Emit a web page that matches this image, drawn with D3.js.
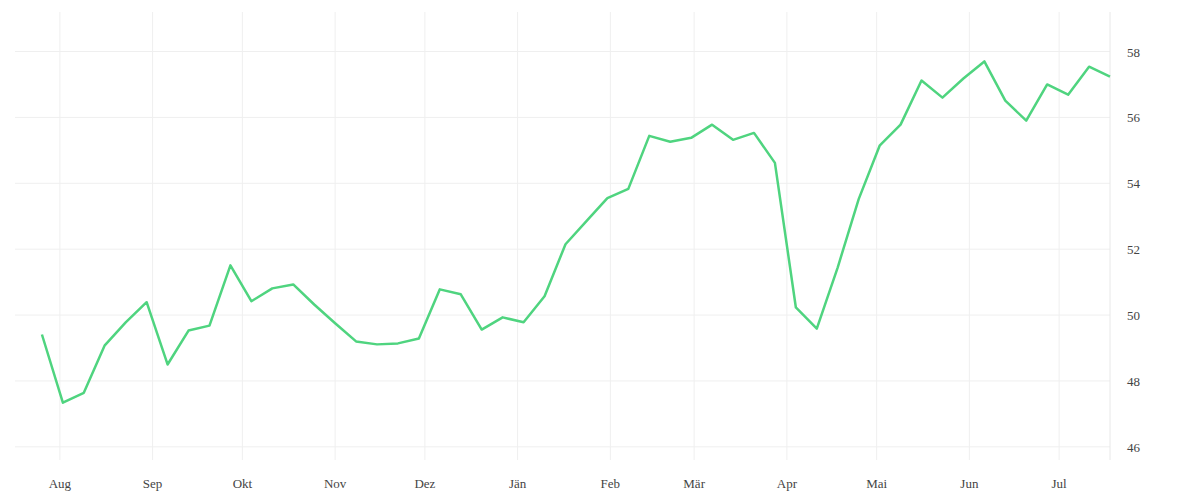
<!DOCTYPE html>
<html><head><meta charset="utf-8">
<script src="https://cdn.jsdelivr.net/npm/d3@7"></script>
<style>body{margin:0;background:#fff}text{font-family:"Liberation Serif",serif;font-size:13px;fill:#444}</style>
</head><body><svg id="c" width="1200" height="500"></svg>
<script>
const startDate = "2022-07-26";
const values = [49.41,47.34,47.64,49.08,49.78,50.39,48.50,49.53,49.68,51.51,50.42,50.81,50.93,50.32,49.75,49.20,49.11,49.14,49.29,50.78,50.63,49.56,49.93,49.78,50.57,52.15,52.85,53.55,53.83,55.44,55.26,55.38,55.78,55.32,55.53,54.62,50.23,49.59,51.45,53.52,55.14,55.78,57.12,56.60,57.18,57.70,56.51,55.90,57.00,56.69,57.54,57.24];
const monthLabels = ["Jan","Feb","Mär","Apr","Mai","Jun","Jul","Aug","Sep","Okt","Nov","Dez"];
monthLabels[0]="Jän";
const yTicks = [46,48,50,52,54,56,58];

const s0 = d3.timeParse("%Y-%m-%d")(startDate);
const data = values.map((v,i)=>({d:d3.timeDay.offset(s0,i*7),v}));
const svg = d3.select("#c");
const L=15,R=1110,T=12,B=460;
const x = d3.scaleTime().domain([d3.timeDay.offset(s0,-9),data[data.length-1].d]).range([L,R]);
const y = d3.scaleLinear().domain([45.6,59.2]).range([B,T]);
const months = d3.timeMonth.range(d3.timeMonth.ceil(x.domain()[0]), x.domain()[1]);
svg.append("g").selectAll("line").data(months).join("line")
 .attr("x1",d=>x(d)).attr("x2",d=>x(d)).attr("y1",T).attr("y2",B).attr("stroke","#efefef");
svg.append("g").selectAll("line").data(yTicks).join("line")
 .attr("x1",L).attr("x2",R).attr("y1",d=>y(d)).attr("y2",d=>y(d)).attr("stroke","#efefef");
svg.append("line").attr("x1",R).attr("x2",R).attr("y1",T).attr("y2",B).attr("stroke","#e8e8e8");
svg.append("g").selectAll("text").data(months).join("text")
 .attr("x",d=>x(d)).attr("y",488).attr("text-anchor","middle").text(d=>monthLabels[d.getMonth()]);
svg.append("g").selectAll("text").data(yTicks).join("text")
 .attr("x",1127).attr("y",d=>y(d)+5).text(d=>d);
svg.append("path").datum(data).attr("fill","none").attr("stroke","#4fd47f").attr("stroke-width",2.5)
 .attr("stroke-linejoin","round").attr("d",d3.line().x(d=>x(d.d)).y(d=>y(d.v)));
</script></body></html>
